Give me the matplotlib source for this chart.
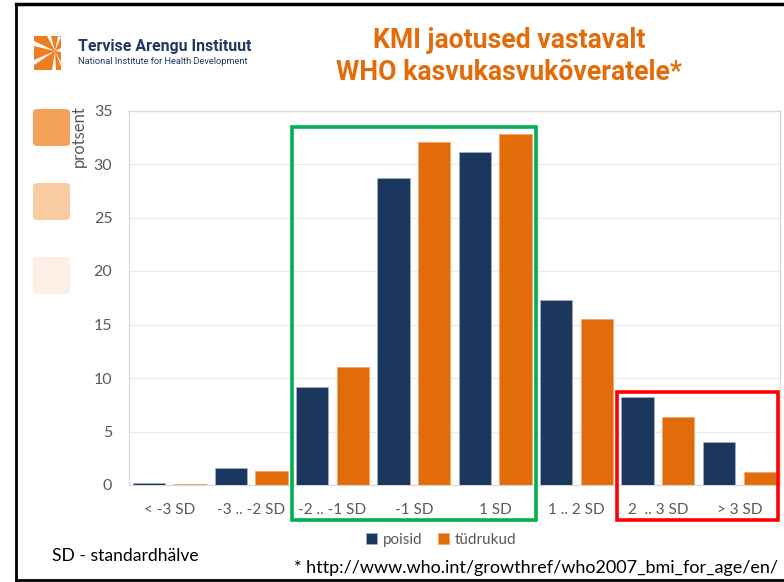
import numpy as np
import matplotlib
matplotlib.use("Agg")
import matplotlib.pyplot as plt
from matplotlib.patches import Rectangle, FancyBboxPatch, Polygon

categories = ["< -3 SD", "-3 .. -2 SD", "-2 .. -1 SD", "-1 SD", "1 SD",
              "1 .. 2 SD", "2  .. 3 SD", "> 3 SD"]
poisid = [0.2, 1.6, 9.2, 28.7, 31.1, 17.3, 8.2, 4.0]
tudrukud = [0.1, 1.3, 11.0, 32.1, 32.8, 15.5, 6.4, 1.2]
yticks = [0, 5, 10, 15, 20, 25, 30, 35]
series_names = ["poisid", "tüdrukud"]

NAVY = "#1B375E"
ORANGE = "#E36C0A"
GRAY = "#595959"
BODY = ["Lato", "DejaVu Sans"]
TITLE = ["Roboto", "DejaVu Sans"]

W, H = 784, 582
fig = plt.figure(figsize=(W / 100, H / 100), dpi=100)
fig.patch.set_facecolor("white")

def fx(x):
    return x / W

def fy(y):
    return 1 - y / H

# axes
ax = fig.add_axes([fx(129), fy(485), (780 - 129) / W, (485 - 110.5) / H])
x = np.arange(len(categories))
bw = 0.396
ax.bar(x - 0.25, poisid, bw, color=NAVY, edgecolor="#9FB0C8", linewidth=0.5,
       label=series_names[0], zorder=3)
ax.bar(x + 0.25, tudrukud, bw, color=ORANGE, edgecolor="#F2A36A", linewidth=0.5,
       label=series_names[1], zorder=3)
ax.set_xlim(-0.5, len(categories) - 0.5)
ax.set_ylim(0, 35)
ax.set_yticks(yticks)
ax.set_yticklabels([str(v) for v in yticks], family=BODY, fontsize=11.5, color=GRAY)
ax.set_xticks(x)
ax.set_xticklabels(categories, family=BODY, fontsize=11, color=GRAY)
ax.tick_params(axis="y", length=0, pad=12)
ax.tick_params(axis="x", length=0, pad=13)
ax.grid(axis="y", color="#EBEBEB", linewidth=0.9, zorder=0)
for s in ax.spines.values():
    s.set_color("#D9D9D9")
    s.set_linewidth(0.9)

# highlight boxes (x and y in data units)
trans = ax.transData
ax.add_patch(Rectangle((1.5, -3.3), 3.0, 33.5 + 3.3, fill=False, edgecolor="#00B050",
                       linewidth=2.6, transform=trans, clip_on=False, zorder=5))
ax.add_patch(Rectangle((5.5, -3.3), 1.97, 8.68 + 3.3, fill=False, edgecolor="#FF0000",
                       linewidth=2.6, transform=trans, clip_on=False, zorder=5))

# legend
leg = fig.legend(loc="center", bbox_to_anchor=(fx(441), fy(540)), ncol=2, frameon=False,
                 handlelength=0.75, handleheight=0.75, handletextpad=0.35,
                 columnspacing=1.0, prop={"family": BODY, "size": 11})
for t in leg.get_texts():
    t.set_color(GRAY)

# y label
fig.text(fx(79), fy(136), "protsent", rotation=90, ha="center", va="center",
         family=BODY, fontsize=12, color=GRAY)

# titles
fig.text(fx(509), fy(41), "KMI jaotused vastavalt", ha="center", va="center",
         family=TITLE, fontweight="bold", fontsize=19.2, color=ORANGE)
fig.text(fx(509), fy(73), "WHO kasvukasvukõveratele*", ha="center", va="center",
         family=TITLE, fontweight="bold", fontsize=19.2, color=ORANGE)

# logo text
fig.text(fx(78), fy(47), "Tervise Arengu Instituut", ha="left", va="center",
         family=TITLE, fontweight="bold", fontsize=11.4, color="#1F3864")
fig.text(fx(78), fy(61.5), "National Institute for Health Development", ha="left", va="center",
         family=TITLE, fontsize=6.7, color="#1F3864")

# logo graphic
def pxpoly(pts, **kw):
    return Polygon([(fx(a), fy(b)) for a, b in pts], closed=True,
                   transform=fig.transFigure, **kw)

fig.patches.append(pxpoly([(34, 36), (61, 36), (61, 70), (34, 70)], color="#EE7D1E", lw=0))
cx, cy = 55, 51
rays = [((34, 41), (34, 46)), ((47, 36), (51, 36)), ((58, 36), (61, 37)),
        ((61, 48), (61, 52)), ((61, 62), (61, 66)), ((52, 70), (56, 70)),
        ((34, 60), (34, 65))]
for p1, p2 in rays:
    fig.patches.append(pxpoly([(cx, cy), p1, p2], color="white", lw=0))

# decorative squares
for y0, col in [(109, "#F4A25A"), (183, "#F9CBA0"), (257, "#FDEFE5")]:
    fig.patches.append(FancyBboxPatch((fx(33), fy(y0 + 37)), 37 / W, 37 / H,
                                      boxstyle="round,pad=0,rounding_size=0.006",
                                      transform=fig.transFigure, color=col, lw=0))

# footnotes
fig.text(fx(52), fy(556), "SD - standardhälve", ha="left", va="center",
         family=BODY, fontsize=12.6, color="black")
fig.text(fx(778), fy(568), "* http://www.who.int/growthref/who2007_bmi_for_age/en/",
         ha="right", va="center", family=BODY, fontsize=13.0, color="black")

# black frame
fig.add_artist(plt.Line2D([fx(16), fx(16)], [fy(4), fy(580)], color="black", lw=2,
                          transform=fig.transFigure))
fig.add_artist(plt.Line2D([fx(16), fx(784)], [fy(4), fy(4)], color="black", lw=2.5,
                          transform=fig.transFigure))
fig.add_artist(plt.Line2D([fx(16), fx(784)], [fy(580), fy(580)], color="black", lw=2,
                          transform=fig.transFigure))

fig.savefig("out.png", dpi=100, facecolor="white")
